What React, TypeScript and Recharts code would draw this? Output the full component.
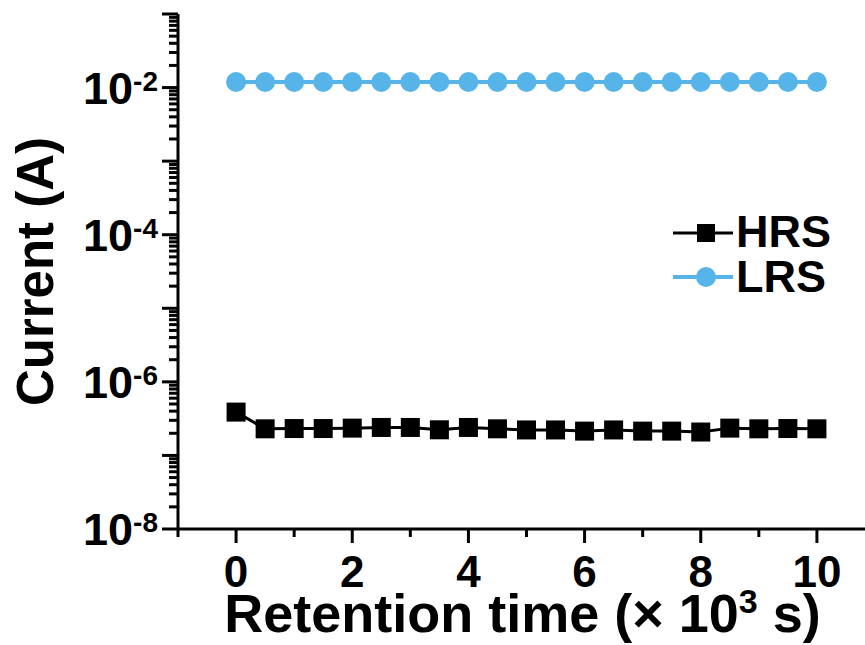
import { Line, LineChart, XAxis, YAxis } from "recharts";

const times = [0, 0.5, 1, 1.5, 2, 2.5, 3, 3.5, 4, 4.5, 5, 5.5, 6, 6.5, 7, 7.5, 8, 8.5, 9, 9.5, 10];
const hrs = [
  3.88e-7, 2.3e-7, 2.32e-7, 2.32e-7, 2.35e-7, 2.4e-7, 2.4e-7, 2.23e-7, 2.4e-7, 2.3e-7, 2.22e-7,
  2.22e-7, 2.14e-7, 2.22e-7, 2.14e-7, 2.14e-7, 2.08e-7, 2.35e-7, 2.3e-7, 2.32e-7, 2.3e-7,
];
const lrs = [
  1.19e-2, 1.19e-2, 1.19e-2, 1.19e-2, 1.19e-2, 1.19e-2, 1.19e-2, 1.19e-2, 1.19e-2, 1.19e-2, 1.19e-2,
  1.19e-2, 1.19e-2, 1.19e-2, 1.19e-2, 1.19e-2, 1.19e-2, 1.19e-2, 1.19e-2, 1.19e-2, 1.19e-2,
];

const xTicks = [-1, 0, 1, 2, 3, 4, 5, 6, 7, 8, 9, 10, 11];
const xLabels = [0, 2, 4, 6, 8, 10];
const decades = [-8, -7, -6, -5, -4, -3, -2, -1];
const labelledDecades = [-8, -6, -4, -2];

// decade ticks plus the 2..9 minor ticks between them
const yTicks: number[] = [];
decades.forEach((d) => {
  yTicks.push(Math.pow(10, d));
  if (d < -1) {
    for (let m = 2; m <= 9; m++) yTicks.push(m * Math.pow(10, d));
  }
});

const data = times.map((t, i) => ({ t, hrs: hrs[i], lrs: lrs[i] }));

const FONT = '"Liberation Sans", Arial, sans-serif';
const BLUE = "#56b4e8";

function XTick(props: any) {
  const { x, y, payload } = props;
  const v = payload.value;
  const major = xLabels.includes(v);
  return (
    <g>
      <line x1={x} x2={x} y1={y} y2={y + (major ? 14 : 8)} stroke="#000" strokeWidth={3} />
      {major && (
        <text x={x} y={y + 58} textAnchor="middle" fontFamily={FONT} fontWeight="bold" fontSize={44} fill="#000">
          {v}
        </text>
      )}
    </g>
  );
}

function YTick(props: any) {
  const { x, y, payload } = props;
  const exp = Math.round(Math.log10(payload.value) * 1000) / 1000;
  const isDecade = Number.isInteger(exp);
  const labelled = isDecade && labelledDecades.includes(exp);
  return (
    <g>
      <line x1={x - (isDecade ? 16 : 9)} x2={x} y1={y} y2={y} stroke="#000" strokeWidth={3} />
      {labelled && (
        <text x={x - 20} y={y + 16} textAnchor="end" fontFamily={FONT} fontWeight="bold" fill="#000">
          <tspan fontSize={45}>10</tspan>
          <tspan fontSize={28} dy={-13}>
            {String(exp)}
          </tspan>
        </text>
      )}
    </g>
  );
}

function SquareDot(props: any) {
  const { cx, cy, index } = props;
  return <rect key={`sq-${index}`} x={cx - 9.5} y={cy - 9.5} width={19} height={19} fill="#000" />;
}

function CircleDot(props: any) {
  const { cx, cy, index } = props;
  return <circle key={`ci-${index}`} cx={cx} cy={cy} r={10} fill={BLUE} />;
}

function LegendBox() {
  return (
    <svg
      width={200}
      height={100}
      style={{ position: "absolute", left: 665, top: 205, display: "block" }}
    >
      <line x1={8} x2={68} y1={28} y2={28} stroke="#000" strokeWidth={3} />
      <rect x={32} y={19} width={18} height={18} fill="#000" />
      <text x={71} y={42} fontFamily={FONT} fontWeight="bold" fontSize={45} fill="#000">
        HRS
      </text>
      <line x1={8} x2={68} y1={72} y2={72} stroke={BLUE} strokeWidth={4} />
      <circle cx={41} cy={72} r={10} fill={BLUE} />
      <text x={71} y={87} fontFamily={FONT} fontWeight="bold" fontSize={45} fill="#000">
        LRS
      </text>
    </svg>
  );
}

export default function App() {
  return (
    <div
      style={{
        position: "absolute",
        left: 0,
        top: 0,
        width: 865,
        height: 645,
        overflow: "hidden",
        background: "#fff",
      }}
    >
      <LineChart width={875} height={645} data={data} margin={{ top: 14, right: 0, left: 0, bottom: 0 }}>
        <XAxis
          dataKey="t"
          type="number"
          domain={[-1, 11]}
          ticks={xTicks}
          interval={0}
          height={116}
          tickSize={0}
          tickMargin={0}
          tickLine={false}
          axisLine={{ stroke: "#000", strokeWidth: 3 }}
          tick={XTick}
          label={({ viewBox }: any) => (
            <text
              x={viewBox.x + viewBox.width / 2 - 4}
              y={viewBox.y + 103}
              textAnchor="middle"
              fontFamily={FONT}
              fontWeight="bold"
              fontSize={54}
              fill="#000"
            >
              Retention time (× 10
              <tspan fontSize={34} dy={-19}>
                3
              </tspan>
              <tspan dy={19}> s)</tspan>
            </text>
          )}
        />
        <XAxis
          xAxisId="top"
          orientation="top"
          dataKey="t"
          type="number"
          domain={[-1, 11]}
          height={0}
          tick={false}
          tickLine={false}
          axisLine={{ stroke: "#000", strokeWidth: 3 }}
        />
        <YAxis
          scale="log"
          type="number"
          domain={[1e-8, 1e-1]}
          allowDataOverflow
          ticks={yTicks}
          interval={0}
          width={178}
          tickSize={0}
          tickMargin={0}
          tickLine={false}
          axisLine={{ stroke: "#000", strokeWidth: 3 }}
          tick={YTick}
          label={({ viewBox }: any) => {
            const cx = 53;
            const cy = viewBox.y + viewBox.height / 2;
            return (
              <text
                x={cx}
                y={cy}
                transform={`rotate(-90 ${cx} ${cy})`}
                textAnchor="middle"
                fontFamily={FONT}
                fontWeight="bold"
                fontSize={51}
                fill="#000"
              >
                Current (A)
              </text>
            );
          }}
        />
        <Line
          dataKey="hrs"
          type="linear"
          stroke="#000"
          strokeWidth={3}
          dot={SquareDot}
          activeDot={false}
          isAnimationActive={false}
        />
        <Line
          dataKey="lrs"
          type="linear"
          stroke={BLUE}
          strokeWidth={4}
          dot={CircleDot}
          activeDot={false}
          isAnimationActive={false}
        />
      </LineChart>
      <LegendBox />
    </div>
  );
}
